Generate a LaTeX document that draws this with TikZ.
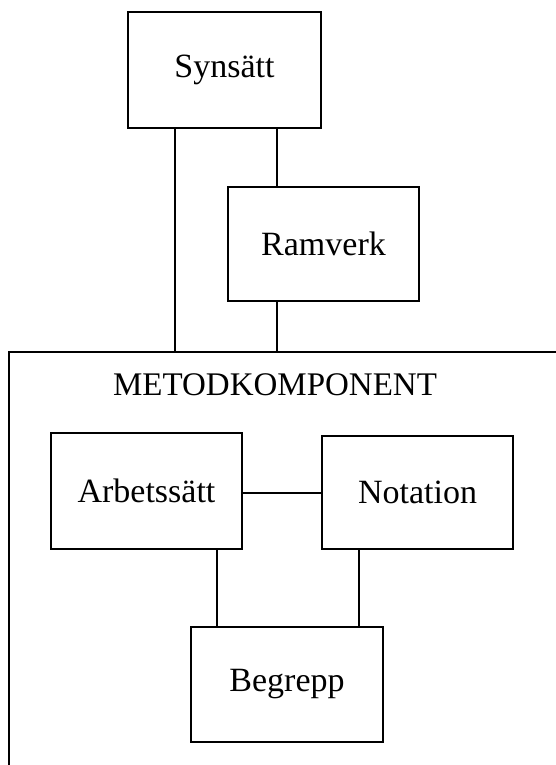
\documentclass[tikz,border=0pt]{standalone}
\usepackage{fontspec}
\setmainfont{Liberation Serif}
\begin{document}
\begin{tikzpicture}[x=1pt,y=-1pt,
  every node/.style={inner sep=0pt,outer sep=0pt},
  comp/.style={draw,line width=1.5pt,rectangle,font=\fontsize{34}{40}\selectfont},
  link/.style={line width=1.5pt},
  frame/.style={draw,line width=1.6pt,rectangle}]
  \useasboundingbox (0,0) rectangle (555,765);
  % the enclosing method component, open to the right and bottom
  \node[frame,minimum width=611pt,minimum height=468pt] (metod) at (314.5,586) {};
  \node[font=\fontsize{33}{40}\selectfont] (title) at (275,385) {METODKOMPONENT};
  % components
  \node[comp,minimum width=193pt,minimum height=116pt] (syn) at (224.5,70) {Synsätt};
  \node[comp,minimum width=191pt,minimum height=114pt] (ram) at (323.5,244) {Ramverk};
  \node[comp,minimum width=191pt,minimum height=116pt] (arb) at (146.5,491) {Arbetssätt};
  \node[comp,minimum width=191pt,minimum height=113pt] (nota) at (417.5,492.5) {Notation};
  \node[comp,minimum width=192pt,minimum height=115pt] (beg) at (287,684.5) {Begrepp};
  % x positions of the vertical connectors
  \coordinate (xa) at (175,0);
  \coordinate (xb) at (277,0);
  \coordinate (xc) at (217,0);
  \coordinate (xd) at (359,0);
  \coordinate (yh) at (0,493);
  % connectors
  \draw[link] (syn.south -| xa) -- (metod.north -| xa);
  \draw[link] (syn.south -| xb) -- (ram.north -| xb);
  \draw[link] (ram.south -| xb) -- (metod.north -| xb);
  \draw[link] (arb.east |- yh) -- (nota.west |- yh);
  \draw[link] (arb.south -| xc) -- (beg.north -| xc);
  \draw[link] (nota.south -| xd) -- (beg.north -| xd);
\end{tikzpicture}
\end{document}
